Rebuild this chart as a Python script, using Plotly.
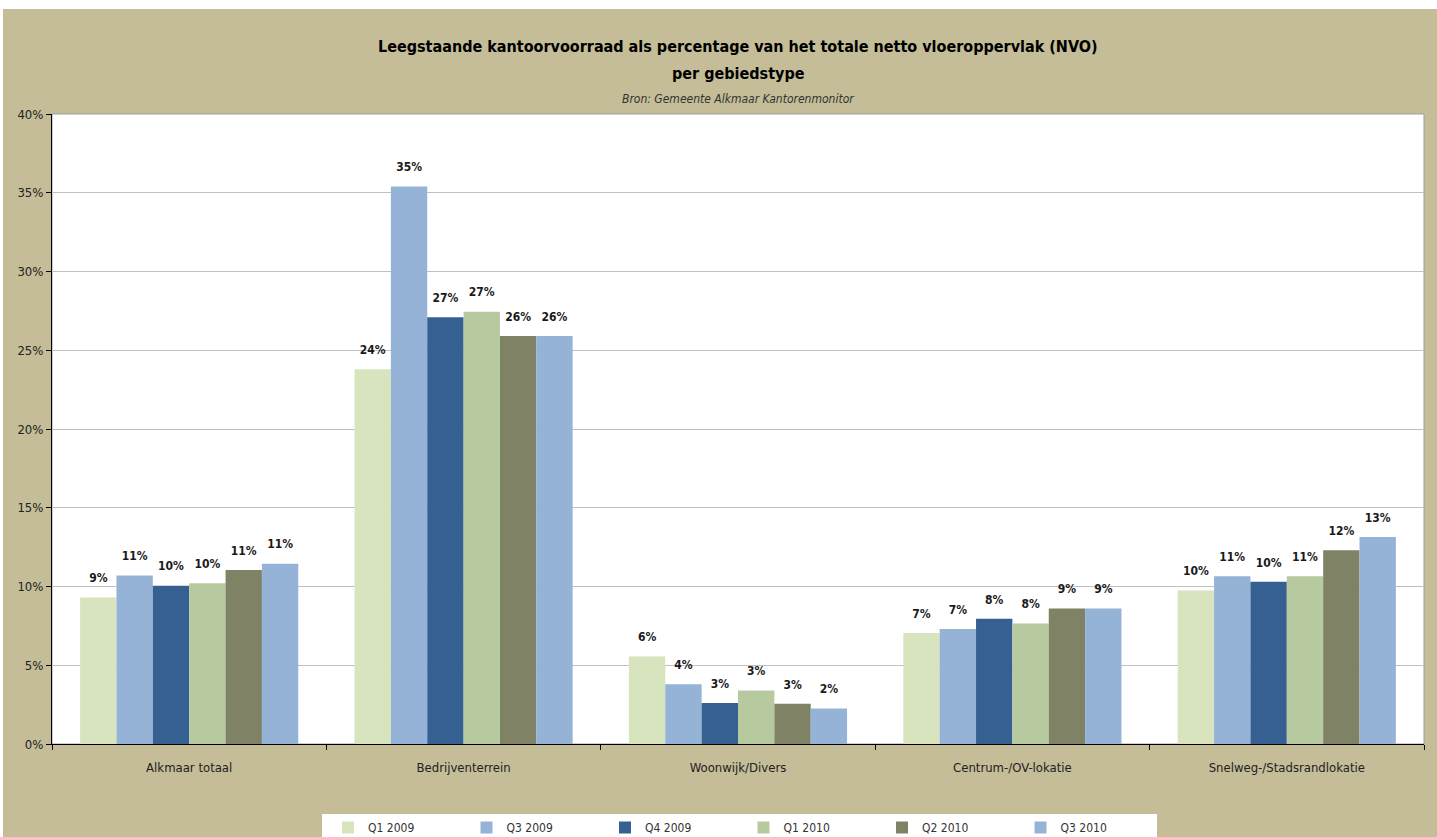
import plotly.graph_objects as go

# Vacancy share of office stock per area type, per quarter
categories = ["Alkmaar totaal", "Bedrijventerrein", "Woonwijk/Divers",
              "Centrum-/OV-lokatie", "Snelweg-/Stadsrandlokatie"]

q1_2009 = [0.093, 0.238, 0.0555, 0.0705, 0.0975]
q3_2009 = [0.107, 0.354, 0.038, 0.073, 0.1065]
q4_2009 = [0.1005, 0.271, 0.026, 0.0795, 0.103]
q1_2010 = [0.102, 0.2745, 0.034, 0.0765, 0.1065]
q2_2010 = [0.1105, 0.259, 0.0255, 0.086, 0.123]
q3_2010 = [0.1145, 0.259, 0.0225, 0.086, 0.1315]

series_names = ["Q1 2009", "Q3 2009", "Q4 2009", "Q1 2010", "Q2 2010", "Q3 2010"]
series_values = [q1_2009, q3_2009, q4_2009, q1_2010, q2_2010, q3_2010]
series_colors = ["#D7E4BD", "#95B3D7", "#366092", "#B7CA9F", "#7F8265", "#95B3D7"]

y_tick_values = [0, 0.05, 0.10, 0.15, 0.20, 0.25, 0.30, 0.35, 0.40]

TAN = "#C4BD97"
FONT = "DejaVu Sans Condensed, Liberation Sans, Arial, sans-serif"
GAP = 0.205

fig = go.Figure()

for name, vals, col in zip(series_names, series_values, series_colors):
    fig.add_trace(go.Bar(
        x=categories, y=vals, name=name,
        marker=dict(color=col, line=dict(width=0)),
    ))

# value labels above each bar, grouped the same way as the bars
for name, vals in zip(series_names, series_values):
    fig.add_trace(go.Scatter(
        x=categories, y=vals, mode="markers+text",
        marker=dict(size=18, opacity=0),
        texttemplate="%{y:.0%}", textposition="top center",
        textfont=dict(family=FONT, size=12, color="#1a1a1a", weight="bold"),
        showlegend=False, hoverinfo="skip", cliponaxis=False,
    ))

W, H = 1437, 837
L, R, T, B = 52, 13, 114, 93
pw, ph = W - L - R, H - T - B

def px_x(x):
    return (x - L) / pw

def px_y(y):
    return (H - B - y) / ph

shapes = [
    # white strips along the top and left edge of the canvas
    dict(type="rect", xref="paper", yref="paper", x0=px_x(-5), x1=px_x(W + 5),
         y0=px_y(9), y1=px_y(-5), fillcolor="white", line=dict(width=0), layer="below"),
    dict(type="rect", xref="paper", yref="paper", x0=px_x(-5), x1=px_x(3),
         y0=px_y(H + 5), y1=px_y(-5), fillcolor="white", line=dict(width=0), layer="below"),
    # legend panel
    dict(type="rect", xref="paper", yref="paper", x0=px_x(322), x1=px_x(1157),
         y0=px_y(H + 5), y1=px_y(814), fillcolor="white", line=dict(width=0), layer="below"),
    # plot area frame
    dict(type="rect", xref="paper", yref="paper", x0=0, x1=1, y0=0, y1=1,
         line=dict(color="#9E9E9E", width=1), fillcolor="rgba(0,0,0,0)", layer="below"),
]

annotations = [
    dict(text="<b>Leegstaande kantoorvoorraad als percentage van het totale netto vloeroppervlak (NVO)</b>",
         xref="paper", yref="paper", x=0.5, y=px_y(47), xanchor="center", yanchor="middle",
         showarrow=False, font=dict(family=FONT, size=16, color="#000000")),
    dict(text="<b>per gebiedstype</b>",
         xref="paper", yref="paper", x=0.5, y=px_y(73), xanchor="center", yanchor="middle",
         showarrow=False, font=dict(family=FONT, size=16, color="#000000")),
    dict(text="<i>Bron: Gemeente Alkmaar Kantorenmonitor</i>",
         xref="paper", yref="paper", x=0.5, y=px_y(99), xanchor="center", yanchor="middle",
         showarrow=False, font=dict(family=FONT, size=12, color="#333333")),
]

fig.update_layout(
    width=W, height=H,
    margin=dict(l=L, r=R, t=T, b=B, pad=0, autoexpand=False),
    paper_bgcolor=TAN, plot_bgcolor="white",
    barmode="group", bargap=GAP, bargroupgap=0,
    scattermode="group", scattergap=GAP,
    font=dict(family=FONT, size=13, color="#222222"),
    shapes=shapes, annotations=annotations,
    showlegend=True,
    legend=dict(
        orientation="h", x=px_x(328), y=px_y(813), xanchor="left", yanchor="top",
        bgcolor="rgba(0,0,0,0)", borderwidth=0, entrywidth=93.5, entrywidthmode="pixels",
        font=dict(family=FONT, size=12, color="#333333"),
        itemsizing="constant", traceorder="normal",
    ),
    xaxis=dict(
        type="category", tickson="boundaries", ticks="outside", ticklen=5,
        tickcolor="#000000", showline=True, linecolor="#000000", linewidth=1,
        showgrid=False, tickfont=dict(family=FONT, size=13, color="#222222"),
        ticklabelstandoff=11, fixedrange=True,
    ),
    yaxis=dict(
        range=[0, 0.40], tickvals=y_tick_values, tickformat=".0%",
        ticks="outside", ticklen=5, tickcolor="#000000",
        showline=True, linecolor="#000000", linewidth=1,
        showgrid=True, gridcolor="#C0C0C0", gridwidth=1, zeroline=False,
        tickfont=dict(family=FONT, size=13, color="#222222"), fixedrange=True,
    ),
)

fig.write_html("out.html")
